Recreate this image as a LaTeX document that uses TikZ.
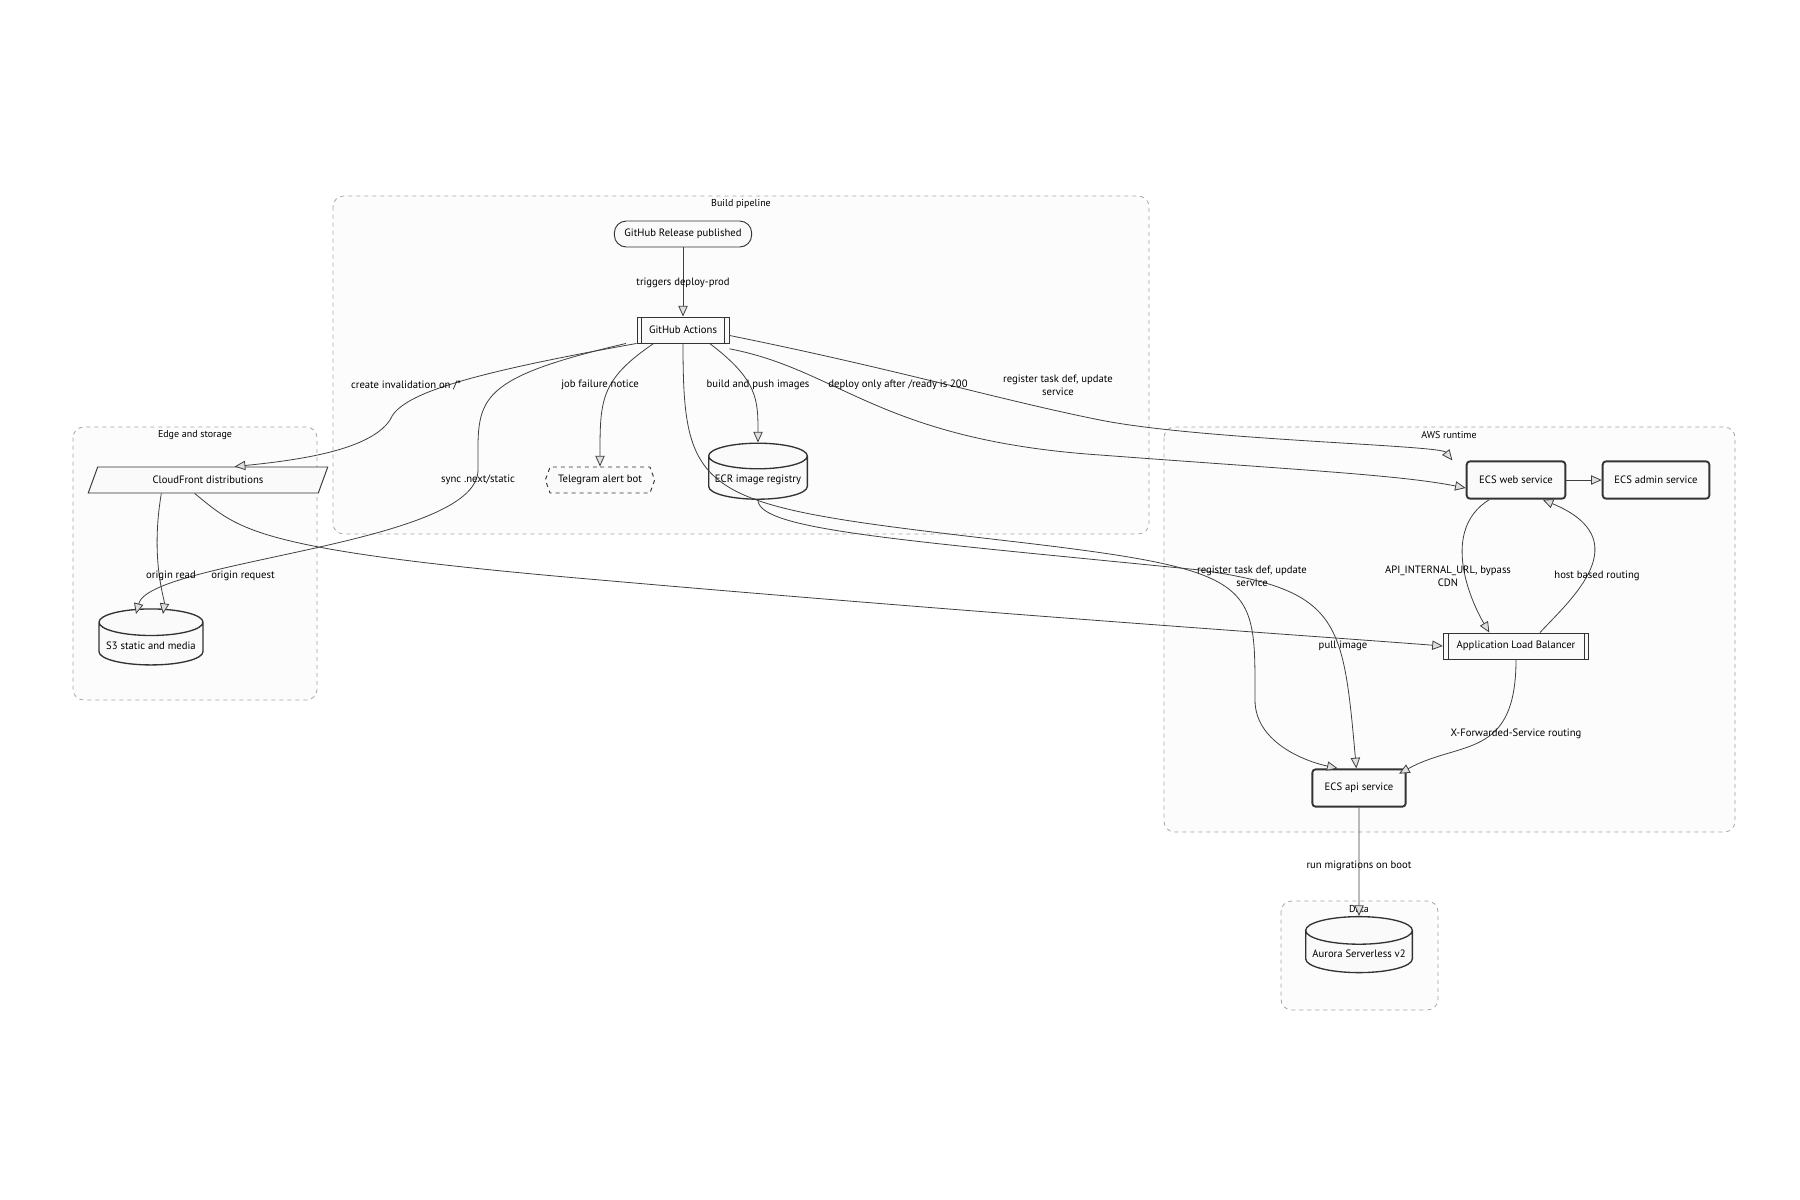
\documentclass[tikz,border=0pt]{standalone}
\usepackage{fontspec}
\setmainfont{PT Sans}
\usetikzlibrary{shapes.geometric,shapes.symbols,arrows.meta}
\begin{document}
\begin{tikzpicture}[x=0.75pt,y=-0.75pt,font=\fontsize{8}{10}\selectfont,
 grp/.style={draw=gray!70,dashed,rounded corners=8pt,fill=gray!2,line width=0.6pt},
 gt/.style={font=\fontsize{7.5}{9}\selectfont},
 nd/.style={draw=black!80,fill=gray!4,line width=0.7pt,inner sep=2pt,align=center},
 svc/.style={nd,rounded corners=2.5pt,line width=1.4pt,minimum height=28pt},
 cyl/.style={nd,cylinder,shape border rotate=90,aspect=0.28,line width=1pt},
 sub/.style={nd,minimum height=19.5pt,path picture={
   \draw ([xshift=3.5pt]path picture bounding box.north west)--([xshift=3.5pt]path picture bounding box.south west);
   \draw ([xshift=-3.5pt]path picture bounding box.north east)--([xshift=-3.5pt]path picture bounding box.south east);}},
 e/.style={draw=black!75,line width=0.6pt,-{Triangle[length=8pt,width=7pt,fill=gray!25]}},
 lb/.style={align=center}]
\fill[white] (0,0) rectangle (1800,1200);
\useasboundingbox (0,0) rectangle (1800,1200);
% groups
\draw[grp] (333,196) rectangle (1149,534);
\node[gt] at (741,204) {Build pipeline};
\draw[grp] (73,427) rectangle (317,700);
\node[gt] at (195,435) {Edge and storage};
\draw[grp] (1164,427) rectangle (1735,832);
\node[gt] at (1449,435) {AWS runtime};
\draw[grp] (1281,901) rectangle (1438,1010);
\node[gt] at (1359,909) {Data};
% nodes
\node[nd,rounded corners=9pt,minimum width=103pt,minimum height=19.5pt] (rel) at (683,234) {GitHub Release published};
\node[sub,minimum width=69pt] (act) at (683,330) {GitHub Actions};
\node[nd,trapezium,trapezium left angle=70,trapezium right angle=110,minimum width=100pt,minimum height=19.5pt,inner xsep=0pt] (cf) at (208,480) {CloudFront distributions};
\node[nd,dashed,signal,signal to=west and east,signal pointer angle=140,minimum width=82pt,minimum height=19.5pt] (tg) at (600,480) {Telegram alert bot};
\node[cyl,minimum width=74pt,minimum height=42pt] (ecr) at (758,480) {ECR image registry};
\node[cyl,minimum width=78pt,minimum height=42pt] (s3) at (151,646) {S3 static and media};
\node[svc,minimum width=74pt] (web) at (1516,480) {ECS web service};
\node[svc,minimum width=80pt] (adm) at (1656,480) {ECS admin service};
\node[sub,minimum width=109pt] (alb) at (1516,646) {Application Load Balancer};
\node[svc,minimum width=70pt] (api) at (1359,788) {ECS api service};
\node[cyl,minimum width=80pt,minimum height=42pt] (aur) at (1359,954) {Aurora Serverless v2};
% edges
\draw[e] (rel) -- (act);
\draw[e] (act.south west) .. controls (460,375) and (400,395) .. (390,420) .. controls (370,450) and (300,460) .. ([xshift=20pt]cf.north);
\draw[e] ([xshift=-8pt]act.south west) .. controls (470,380) and (478,400) .. (478,470) .. controls (478,545) and (150,560) .. (136,614);
\draw[e] ([xshift=-22pt]act.south) .. controls (600,380) and (600,400) .. (tg.north);
\draw[e] ([xshift=20pt]act.south) .. controls (758,380) and (758,400) .. (ecr.north);
\draw[e] (act.south) .. controls (683,500) and (700,505) .. (1000,540) .. controls (1260,570) and (1255,580) .. (1255,700) .. controls (1255,740) and (1300,760) .. ([xshift=-16pt]api.north);
\draw[e] (ecr.south) .. controls (758,530) and (900,540) .. (1200,570) .. controls (1340,590) and (1343,620) .. ([xshift=-2pt]api.north);
\draw[e] ([yshift=-4pt]act.south east) .. controls (840,370) and (880,440) .. (1100,455) .. controls (1300,470) and (1400,475) .. ([yshift=-6pt]web.west);
\draw[e] ([yshift=6pt]act.south east) .. controls (900,370) and (1000,400) .. (1100,420) .. controls (1200,440) and (1440,445) .. ([xshift=-10pt]web.north west);
\draw[e] ([xshift=-35pt]cf.south) .. controls (150,560) and (165,600) .. (163,614);
\draw[e] ([xshift=-10pt]cf.south) .. controls (240,530) and (250,550) .. (600,580) .. controls (1000,615) and (1300,635) .. (alb.west);
\draw[e] (web.east) -- (adm.west);
\draw[e] ([xshift=-20pt]web.south) .. controls (1440,530) and (1470,600) .. ([xshift=-20pt]alb.north);
\draw[e] ([xshift=18pt]alb.north) .. controls (1570,600) and (1640,540) .. ([xshift=20pt]web.south);
\draw[e] (alb.south) .. controls (1516,760) and (1460,740) .. ([xshift=30pt,yshift=-4pt]api.north);
\draw[e] (api) -- (aur);
% labels
\node[lb] at (683,283) {triggers deploy-prod};
\node[lb] at (406,385) {create invalidation on /*};
\node[lb] at (600,385) {job failure notice};
\node[lb] at (758,385) {build and push images};
\node[lb] at (898,385) {deploy only after /ready is 200};
\node[lb] at (1058,385) {register task def, update\\service};
\node[lb] at (478,480) {sync .next/static};
\node[lb] at (171,576) {origin read};
\node[lb] at (243,576) {origin request};
\node[lb] at (1252,576) {register task def, update\\service};
\node[lb] at (1343,646) {pull image};
\node[lb] at (1448,576) {API\_INTERNAL\_URL, bypass\\CDN};
\node[lb] at (1597,576) {host based routing};
\node[lb] at (1516,734) {X-Forwarded-Service routing};
\node[lb] at (1359,866) {run migrations on boot};
\end{tikzpicture}
\end{document}
